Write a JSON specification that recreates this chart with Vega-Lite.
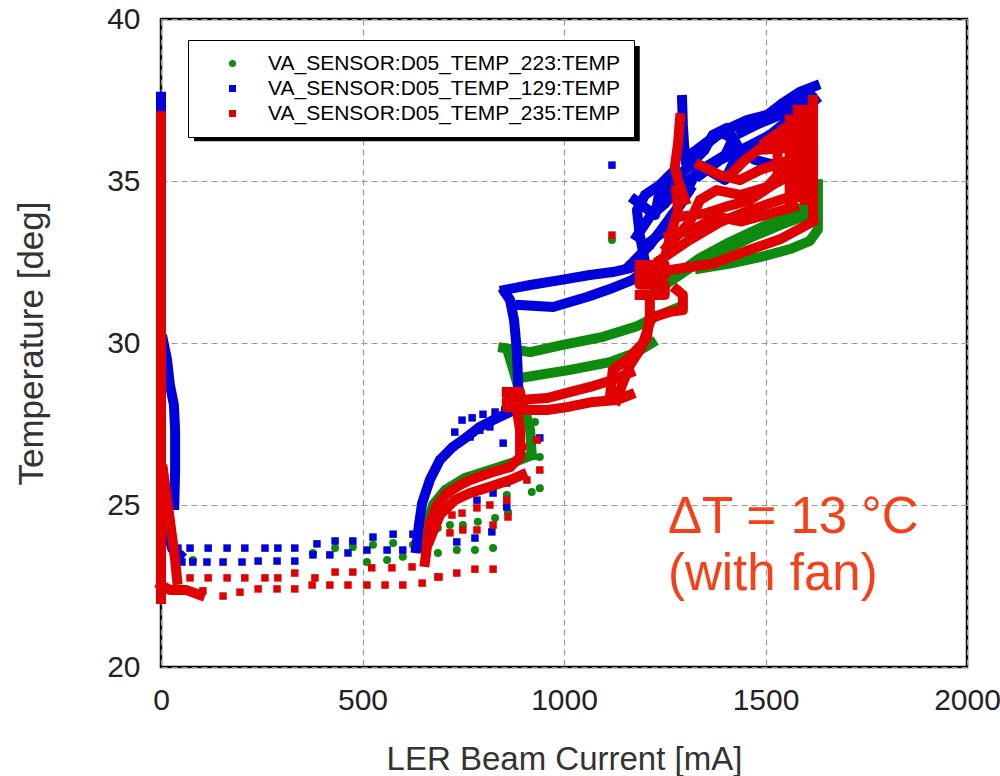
{
  "$schema": "https://vega.github.io/schema/vega-lite/v6.json",
  "width": 806,
  "height": 648,
  "autosize": {"type": "none"},
  "padding": {"left": 161, "top": 19, "right": 33, "bottom": 109},
  "background": "white",
  "config": {
    "font": "Liberation Sans",
    "view": {"stroke": "#000", "strokeWidth": 2.5},
    "axis": {"grid": true, "gridColor": "#999", "gridDash": [6, 4], "gridWidth": 1.2, "domain": false, "ticks": false, "labelFlush": false,
      "labelFont": "Liberation Sans", "labelFontSize": 30, "labelColor": "#222",
      "titleFont": "Liberation Sans", "titleFontWeight": "normal", "titleColor": "#333"}
  },
  "datasets": {
    "pts": [
      {"s":"223","x":79,"y":23.3},{"s":"223","x":377,"y":23.52},{"s":"223","x":432,"y":23.67},{"s":"223","x":476,"y":23.7},{"s":"223","x":526,"y":23.77},{"s":"223","x":576,"y":23.83},{"s":"223","x":625,"y":23.77},{"s":"223","x":672,"y":24.07},{"s":"223","x":511,"y":23.24},{"s":"223","x":561,"y":23.3},{"s":"223","x":600,"y":23.4},{"s":"223","x":734,"y":23.61},{"s":"223","x":779,"y":23.61},{"s":"223","x":824,"y":23.67},{"s":"223","x":717,"y":24.38},{"s":"223","x":786,"y":24.48},{"s":"223","x":829,"y":24.6},{"s":"223","x":861,"y":24.78},{"s":"223","x":687,"y":24.29},{"s":"223","x":749,"y":24.38},{"s":"223","x":687,"y":23.52},{"s":"223","x":920,"y":25.4},{"s":"223","x":940,"y":25.52},{"s":"223","x":940,"y":26.48},{"s":"223","x":858,"y":25.31},{"s":"223","x":928,"y":27.56},{"s":"223","x":1119,"y":33.18},
      {"s":"223","g":"G0","x":650,"y":23.67},{"s":"223","g":"G0","x":660,"y":24.38},{"s":"223","g":"G0","x":675,"y":25.0},{"s":"223","g":"G0","x":705,"y":25.46},{"s":"223","g":"G0","x":754,"y":25.83},{"s":"223","g":"G0","x":816,"y":26.08},{"s":"223","g":"G0","x":878,"y":26.33},{"s":"223","g":"G0","x":920,"y":26.54},
      {"s":"223","g":"G1","x":920,"y":26.54},{"s":"223","g":"G1","x":916,"y":27.31},{"s":"223","g":"G1","x":896,"y":28.24},{"s":"223","g":"G1","x":878,"y":29.01},{"s":"223","g":"G1","x":861,"y":29.72},
      {"s":"223","g":"G2","x":849,"y":29.85},{"s":"223","g":"G2","x":916,"y":29.72},{"s":"223","g":"G2","x":997,"y":29.94},{"s":"223","g":"G2","x":1097,"y":30.19},{"s":"223","g":"G2","x":1181,"y":30.52},{"s":"223","g":"G2","x":1231,"y":30.83},{"s":"223","g":"G2","x":1280,"y":31.08},
      {"s":"223","g":"G3","x":891,"y":28.92},{"s":"223","g":"G3","x":1015,"y":29.17},{"s":"223","g":"G3","x":1114,"y":29.41},{"s":"223","g":"G3","x":1181,"y":29.72},{"s":"223","g":"G3","x":1218,"y":30.0},
      {"s":"223","g":"G4","x":1226,"y":31.57},{"s":"223","g":"G4","x":1288,"y":32.19},{"s":"223","g":"G4","x":1337,"y":32.62},{"s":"223","g":"G4","x":1412,"y":33.12},{"s":"223","g":"G4","x":1486,"y":33.55},{"s":"223","g":"G4","x":1561,"y":33.98},{"s":"223","g":"G4","x":1623,"y":34.41},{"s":"223","g":"G4","x":1625,"y":34.9},
      {"s":"223","g":"G5","x":1250,"y":31.79},{"s":"223","g":"G5","x":1312,"y":32.31},{"s":"223","g":"G5","x":1387,"y":32.81},{"s":"223","g":"G5","x":1461,"y":33.24},{"s":"223","g":"G5","x":1536,"y":33.64},{"s":"223","g":"G5","x":1623,"y":34.04},
      {"s":"223","g":"G6","x":1337,"y":32.3},{"s":"223","g":"G6","x":1412,"y":32.45},{"s":"223","g":"G6","x":1486,"y":32.65},{"s":"223","g":"G6","x":1561,"y":32.9},{"s":"223","g":"G6","x":1610,"y":33.15},{"s":"223","g":"G6","x":1630,"y":33.5},{"s":"223","g":"G6","x":1630,"y":34.9},

      {"s":"129","x":42,"y":23.67},{"s":"129","x":72,"y":23.67},{"s":"129","x":117,"y":23.67},{"s":"129","x":164,"y":23.67},{"s":"129","x":208,"y":23.67},{"s":"129","x":258,"y":23.67},{"s":"129","x":290,"y":23.67},{"s":"129","x":332,"y":23.67},{"s":"129","x":387,"y":23.8},{"s":"129","x":432,"y":23.89},{"s":"129","x":476,"y":23.89},{"s":"129","x":526,"y":24.01},{"s":"129","x":576,"y":24.1},{"s":"129","x":625,"y":24.1},
      {"s":"129","x":52,"y":23.24},{"s":"129","x":79,"y":23.24},{"s":"129","x":114,"y":23.24},{"s":"129","x":154,"y":23.24},{"s":"129","x":201,"y":23.24},{"s":"129","x":241,"y":23.27},{"s":"129","x":288,"y":23.27},{"s":"129","x":332,"y":23.27},{"s":"129","x":377,"y":23.46},{"s":"129","x":419,"y":23.46},{"s":"129","x":464,"y":23.52},{"s":"129","x":511,"y":23.61},{"s":"129","x":561,"y":23.61},{"s":"129","x":600,"y":23.61},{"s":"129","x":643,"y":23.67},
      {"s":"129","x":734,"y":23.86},{"s":"129","x":779,"y":23.98},{"s":"129","x":821,"y":24.17},{"s":"129","x":858,"y":24.94},{"s":"129","x":940,"y":27.07},{"s":"129","x":747,"y":27.62},{"s":"129","x":772,"y":27.69},{"s":"129","x":799,"y":27.8},{"s":"129","x":829,"y":27.87},{"s":"129","x":853,"y":27.93},{"s":"129","x":791,"y":27.31},{"s":"129","x":816,"y":27.41},{"s":"129","x":729,"y":27.25},{"s":"129","x":767,"y":27.1},{"s":"129","x":849,"y":26.91},{"s":"129","x":933,"y":27.01},{"s":"129","x":858,"y":25.68},{"s":"129","x":824,"y":25.37},{"s":"129","x":784,"y":25.15},{"s":"129","x":1119,"y":35.49},
      {"s":"129","g":"B0","x":0,"y":37.6},{"s":"129","g":"B0","x":0,"y":31.3},{"s":"129","g":"B0","x":0,"y":25.8},
      {"s":"129","g":"B1","x":5,"y":30.09},{"s":"129","g":"B1","x":15,"y":29.48},{"s":"129","g":"B1","x":22,"y":28.71},{"s":"129","g":"B1","x":32,"y":28.09},{"s":"129","g":"B1","x":35,"y":27.31},{"s":"129","g":"B1","x":35,"y":26.08},{"s":"129","g":"B1","x":33,"y":25.0},
      {"s":"129","g":"B1b","x":12,"y":25.0},{"s":"129","g":"B1b","x":17,"y":24.23},{"s":"129","g":"B1b","x":27,"y":23.67},{"s":"129","g":"B1b","x":47,"y":23.46},
      {"s":"129","g":"B2","x":633,"y":23.67},{"s":"129","g":"B2","x":640,"y":24.38},{"s":"129","g":"B2","x":648,"y":25.06},{"s":"129","g":"B2","x":667,"y":25.77},{"s":"129","g":"B2","x":692,"y":26.39},{"s":"129","g":"B2","x":724,"y":26.79},{"s":"129","g":"B2","x":759,"y":27.1},{"s":"129","g":"B2","x":791,"y":27.41},{"s":"129","g":"B2","x":824,"y":27.62},{"s":"129","g":"B2","x":866,"y":27.87},{"s":"129","g":"B2","x":886,"y":28.09},
      {"s":"129","g":"B3","x":886,"y":28.09},{"s":"129","g":"B3","x":886,"y":28.86},{"s":"129","g":"B3","x":883,"y":29.78},{"s":"129","g":"B3","x":876,"y":30.71},{"s":"129","g":"B3","x":866,"y":31.33},{"s":"129","g":"B3","x":853,"y":31.57},
      {"s":"129","g":"B4","x":853,"y":31.64},{"s":"129","g":"B4","x":916,"y":31.79},{"s":"129","g":"B4","x":990,"y":31.94},{"s":"129","g":"B4","x":1064,"y":32.1},{"s":"129","g":"B4","x":1121,"y":32.19},{"s":"129","g":"B4","x":1164,"y":32.31},{"s":"129","g":"B4","x":1201,"y":32.5},
      {"s":"129","g":"B5","x":891,"y":31.17},{"s":"129","g":"B5","x":973,"y":31.11},{"s":"129","g":"B5","x":1057,"y":31.42},{"s":"129","g":"B5","x":1121,"y":31.7},{"s":"129","g":"B5","x":1169,"y":31.94},{"s":"129","g":"B5","x":1206,"y":32.31},
      {"s":"129","g":"B6","x":1201,"y":32.5},{"s":"129","g":"B6","x":1188,"y":33.33},{"s":"129","g":"B6","x":1181,"y":34.1},{"s":"129","g":"B6","x":1201,"y":34.57},{"s":"129","g":"B6","x":1238,"y":34.88},{"s":"129","g":"B6","x":1275,"y":35.34},
      {"s":"129","g":"B7","x":1164,"y":32.41},{"s":"129","g":"B7","x":1213,"y":33.02},{"s":"129","g":"B7","x":1250,"y":33.64},{"s":"129","g":"B7","x":1288,"y":34.26},{"s":"129","g":"B7","x":1312,"y":34.72},
      {"s":"129","g":"B8","x":1238,"y":34.41},{"s":"129","g":"B8","x":1275,"y":35.03},{"s":"129","g":"B8","x":1312,"y":35.49},{"s":"129","g":"B8","x":1349,"y":35.96},{"s":"129","g":"B8","x":1369,"y":36.42},{"s":"129","g":"B8","x":1404,"y":36.64},{"s":"129","g":"B8","x":1437,"y":35.96},{"s":"129","g":"B8","x":1474,"y":35.65},{"s":"129","g":"B8","x":1524,"y":35.49},{"s":"129","g":"B8","x":1585,"y":35.49},{"s":"129","g":"B8","x":1618,"y":35.49},
      {"s":"129","g":"B9","x":1312,"y":35.8},{"s":"129","g":"B9","x":1362,"y":36.27},{"s":"129","g":"B9","x":1412,"y":36.64},{"s":"129","g":"B9","x":1454,"y":36.88},{"s":"129","g":"B9","x":1504,"y":37.04},{"s":"129","g":"B9","x":1543,"y":37.41},{"s":"129","g":"B9","x":1585,"y":37.75},{"s":"129","g":"B9","x":1623,"y":37.93},
      {"s":"129","g":"B10","x":1337,"y":35.18},{"s":"129","g":"B10","x":1387,"y":35.65},{"s":"129","g":"B10","x":1449,"y":36.02},{"s":"129","g":"B10","x":1511,"y":36.42},{"s":"129","g":"B10","x":1573,"y":37.04},{"s":"129","g":"B10","x":1623,"y":37.5},
      {"s":"129","g":"B11","x":1176,"y":34.41},{"s":"129","g":"B11","x":1226,"y":33.95},{"s":"129","g":"B11","x":1238,"y":34.72},{"s":"129","g":"B11","x":1312,"y":34.88},{"s":"129","g":"B11","x":1337,"y":35.49},{"s":"129","g":"B11","x":1399,"y":35.03},{"s":"129","g":"B11","x":1424,"y":35.65},{"s":"129","g":"B11","x":1486,"y":36.11},
      {"s":"129","g":"B12","x":1293,"y":37.5},{"s":"129","g":"B12","x":1295,"y":36.73},{"s":"129","g":"B12","x":1298,"y":36.11},{"s":"129","g":"B12","x":1302,"y":35.65},
      {"s":"129","g":"B13","x":1181,"y":33.3},{"s":"129","g":"B13","x":1213,"y":33.9},{"s":"129","g":"B13","x":1250,"y":34.3},{"s":"129","g":"B13","x":1288,"y":34.8},{"s":"129","g":"B13","x":1325,"y":35.2},
      {"s":"129","g":"B14","x":1200,"y":33.0},{"s":"129","g":"B14","x":1238,"y":33.35},{"s":"129","g":"B14","x":1265,"y":33.9},{"s":"129","g":"B14","x":1290,"y":34.3},
      {"s":"129","g":"B15","x":1330,"y":35.9},{"s":"129","g":"B15","x":1360,"y":36.2},{"s":"129","g":"B15","x":1390,"y":36.5},{"s":"129","g":"B15","x":1419,"y":36.3},{"s":"129","g":"B15","x":1400,"y":35.8},{"s":"129","g":"B15","x":1360,"y":35.5},
      {"s":"129","g":"B16","x":1440,"y":36.5},{"s":"129","g":"B16","x":1480,"y":36.75},{"s":"129","g":"B16","x":1530,"y":37.0},{"s":"129","g":"B16","x":1570,"y":37.3},{"s":"129","g":"B16","x":1610,"y":37.7},

      {"s":"235","x":72,"y":22.75},{"s":"235","x":117,"y":22.75},{"s":"235","x":164,"y":22.75},{"s":"235","x":208,"y":22.75},{"s":"235","x":258,"y":22.75},{"s":"235","x":290,"y":22.75},{"s":"235","x":332,"y":22.9},{"s":"235","x":382,"y":22.75},{"s":"235","x":432,"y":22.93},{"s":"235","x":476,"y":22.93},{"s":"235","x":523,"y":23.06},{"s":"235","x":573,"y":23.06},{"s":"235","x":623,"y":23.09},{"s":"235","x":687,"y":22.78},
      {"s":"235","x":104,"y":22.35},{"s":"235","x":154,"y":22.19},{"s":"235","x":196,"y":22.31},{"s":"235","x":241,"y":22.41},{"s":"235","x":288,"y":22.41},{"s":"235","x":332,"y":22.41},{"s":"235","x":375,"y":22.53},{"s":"235","x":419,"y":22.53},{"s":"235","x":464,"y":22.53},{"s":"235","x":511,"y":22.53},{"s":"235","x":556,"y":22.53},{"s":"235","x":600,"y":22.53},{"s":"235","x":648,"y":22.59},{"s":"235","x":690,"y":22.78},{"s":"235","x":734,"y":22.9},{"s":"235","x":779,"y":23.02},{"s":"235","x":824,"y":23.02},
      {"s":"235","x":717,"y":24.14},{"s":"235","x":749,"y":24.23},{"s":"235","x":784,"y":24.23},{"s":"235","x":824,"y":24.38},{"s":"235","x":722,"y":24.69},{"s":"235","x":747,"y":24.75},{"s":"235","x":784,"y":24.91},{"s":"235","x":816,"y":25.0},{"s":"235","x":861,"y":24.63},{"s":"235","x":858,"y":25.15},{"s":"235","x":908,"y":25.77},{"s":"235","x":940,"y":26.08},{"s":"235","x":898,"y":26.79},{"s":"235","x":933,"y":27.01},{"s":"235","x":1119,"y":33.33},
      {"s":"235","g":"R0","x":0,"y":37.0},{"s":"235","g":"R0","x":0,"y":22.1},
      {"s":"235","g":"R0b","x":0,"y":22.53},{"s":"235","g":"R0b","x":22,"y":22.38},{"s":"235","g":"R0b","x":62,"y":22.38},{"s":"235","g":"R0b","x":97,"y":22.22},
      {"s":"235","g":"R0c","x":5,"y":26.08},{"s":"235","g":"R0c","x":22,"y":24.54},{"s":"235","g":"R0c","x":35,"y":23.3},{"s":"235","g":"R0c","x":40,"y":22.69},
      {"s":"235","g":"R1","x":655,"y":23.24},{"s":"235","g":"R1","x":662,"y":23.92},{"s":"235","g":"R1","x":667,"y":24.44},{"s":"235","g":"R1","x":685,"y":25.0},{"s":"235","g":"R1","x":710,"y":25.37},{"s":"235","g":"R1","x":742,"y":25.62},{"s":"235","g":"R1","x":767,"y":25.77},{"s":"235","g":"R1","x":816,"y":25.99},{"s":"235","g":"R1","x":866,"y":26.17},{"s":"235","g":"R1","x":891,"y":26.48},{"s":"235","g":"R1","x":891,"y":27.31},{"s":"235","g":"R1","x":883,"y":27.93},{"s":"235","g":"R1","x":878,"y":28.3},
      {"s":"235","g":"R1b","x":667,"y":23.92},{"s":"235","g":"R1b","x":692,"y":24.69},{"s":"235","g":"R1b","x":729,"y":25.15},{"s":"235","g":"R1b","x":767,"y":25.37},{"s":"235","g":"R1b","x":816,"y":25.56},{"s":"235","g":"R1b","x":866,"y":25.77},{"s":"235","g":"R1b","x":896,"y":25.93},
      {"s":"235","g":"R2","x":858,"y":28.49},{"s":"235","g":"R2","x":891,"y":28.49},{"s":"235","g":"R2","x":891,"y":28.24},{"s":"235","g":"R2","x":858,"y":28.24},{"s":"235","g":"R2","x":858,"y":28.02},{"s":"235","g":"R2","x":891,"y":28.02},
      {"s":"235","g":"R3","x":891,"y":28.24},{"s":"235","g":"R3","x":958,"y":28.3},{"s":"235","g":"R3","x":1007,"y":28.46},{"s":"235","g":"R3","x":1072,"y":28.67},{"s":"235","g":"R3","x":1121,"y":28.86},{"s":"235","g":"R3","x":1164,"y":29.08},
      {"s":"235","g":"R4","x":896,"y":27.93},{"s":"235","g":"R4","x":958,"y":27.93},{"s":"235","g":"R4","x":1007,"y":28.02},{"s":"235","g":"R4","x":1072,"y":28.18},{"s":"235","g":"R4","x":1131,"y":28.24},{"s":"235","g":"R4","x":1164,"y":28.4},
      {"s":"235","g":"R5","x":1131,"y":28.24},{"s":"235","g":"R5","x":1144,"y":28.7},{"s":"235","g":"R5","x":1164,"y":29.32},{"s":"235","g":"R5","x":1188,"y":29.78},{"s":"235","g":"R5","x":1206,"y":30.19},{"s":"235","g":"R5","x":1213,"y":30.86},{"s":"235","g":"R5","x":1213,"y":31.42},
      {"s":"235","g":"R6","x":1114,"y":28.33},{"s":"235","g":"R6","x":1121,"y":29.17},{"s":"235","g":"R6","x":1156,"y":29.48},{"s":"235","g":"R6","x":1196,"y":30.0},{"s":"235","g":"R6","x":1213,"y":30.62},
      {"s":"235","g":"R7","x":1188,"y":32.41},{"s":"235","g":"R7","x":1250,"y":32.41},{"s":"235","g":"R7","x":1250,"y":32.1},{"s":"235","g":"R7","x":1188,"y":32.1},{"s":"235","g":"R7","x":1188,"y":31.8},{"s":"235","g":"R7","x":1250,"y":31.8},{"s":"235","g":"R7","x":1250,"y":31.48},{"s":"235","g":"R7","x":1188,"y":31.48},
      {"s":"235","g":"R8","x":1221,"y":30.8},{"s":"235","g":"R8","x":1263,"y":30.96},{"s":"235","g":"R8","x":1295,"y":31.02},{"s":"235","g":"R8","x":1295,"y":31.48},{"s":"235","g":"R8","x":1280,"y":31.64},
      {"s":"235","g":"R9","x":1288,"y":36.94},{"s":"235","g":"R9","x":1283,"y":36.17},{"s":"235","g":"R9","x":1275,"y":35.43},{"s":"235","g":"R9","x":1283,"y":35.03},{"s":"235","g":"R9","x":1300,"y":34.41},
      {"s":"235","g":"R10","x":1255,"y":32.96},{"s":"235","g":"R10","x":1312,"y":33.73},{"s":"235","g":"R10","x":1337,"y":34.41},{"s":"235","g":"R10","x":1379,"y":34.72},{"s":"235","g":"R10","x":1437,"y":34.57},{"s":"235","g":"R10","x":1504,"y":34.81},{"s":"235","g":"R10","x":1553,"y":35.49},{"s":"235","g":"R10","x":1603,"y":36.57},{"s":"235","g":"R10","x":1618,"y":37.41},
      {"s":"235","g":"R11","x":1238,"y":32.56},{"s":"235","g":"R11","x":1312,"y":33.18},{"s":"235","g":"R11","x":1387,"y":33.73},{"s":"235","g":"R11","x":1461,"y":34.1},{"s":"235","g":"R11","x":1536,"y":34.41},{"s":"235","g":"R11","x":1610,"y":34.72},
      {"s":"235","g":"R12","x":1188,"y":32.1},{"s":"235","g":"R12","x":1288,"y":32.3},{"s":"235","g":"R12","x":1370,"y":32.45},{"s":"235","g":"R12","x":1454,"y":32.85},{"s":"235","g":"R12","x":1536,"y":33.2},{"s":"235","g":"R12","x":1618,"y":33.75},
      {"s":"235","g":"R13","x":1618,"y":37.5},{"s":"235","g":"R13","x":1618,"y":33.95},
      {"s":"235","g":"R13b","x":1598,"y":37.19},{"s":"235","g":"R13b","x":1598,"y":34.41},
      {"s":"235","g":"R14","x":1486,"y":35.96},{"s":"235","g":"R14","x":1548,"y":36.02},{"s":"235","g":"R14","x":1618,"y":36.17},{"s":"235","g":"R14","x":1561,"y":36.42},{"s":"235","g":"R14","x":1499,"y":36.11},{"s":"235","g":"R14","x":1449,"y":35.65},{"s":"235","g":"R14","x":1412,"y":35.18},
      {"s":"235","g":"R15","x":1337,"y":35.49},{"s":"235","g":"R15","x":1387,"y":35.18},{"s":"235","g":"R15","x":1437,"y":35.03},{"s":"235","g":"R15","x":1486,"y":35.34},{"s":"235","g":"R15","x":1561,"y":35.65},{"s":"235","g":"R15","x":1615,"y":35.96},
      {"s":"235","g":"R17","x":1255,"y":32.87},{"s":"235","g":"R17","x":1268,"y":33.49},{"s":"235","g":"R17","x":1283,"y":34.1},{"s":"235","g":"R17","x":1278,"y":34.72},
      {"s":"235","g":"R18","x":1290,"y":33.9},{"s":"235","g":"R18","x":1350,"y":34.0},{"s":"235","g":"R18","x":1400,"y":34.2},{"s":"235","g":"R18","x":1460,"y":34.4},{"s":"235","g":"R18","x":1520,"y":34.9},{"s":"235","g":"R18","x":1580,"y":35.3},{"s":"235","g":"R18","x":1610,"y":35.6},
      {"s":"235","g":"R19","x":1260,"y":33.3},{"s":"235","g":"R19","x":1320,"y":33.5},{"s":"235","g":"R19","x":1380,"y":33.9},{"s":"235","g":"R19","x":1440,"y":33.75},{"s":"235","g":"R19","x":1500,"y":33.95},{"s":"235","g":"R19","x":1570,"y":34.2},
      {"s":"235","g":"R20","x":1560,"y":36.9},{"s":"235","g":"R20","x":1560,"y":34.3},
      {"s":"235","g":"R21","x":1580,"y":37.2},{"s":"235","g":"R21","x":1580,"y":34.5},
      {"s":"235","g":"R22","x":1530,"y":36.4},{"s":"235","g":"R22","x":1530,"y":35.1},
      {"s":"235","g":"R23","x":1500,"y":36.2},{"s":"235","g":"R23","x":1545,"y":36.6},{"s":"235","g":"R23","x":1590,"y":37.0}
    ]
  },
  "encoding": {
    "x": {"field": "x", "type": "quantitative", "scale": {"domain": [0, 2000], "nice": false},
      "axis": {"values": [0, 500, 1000, 1500, 2000], "format": "d", "title": "LER Beam Current [mA]", "labelPadding": 18, "titleFontSize": 33, "titlePadding": 28,
        "encode": {"labels": {"update": {"dx": {"signal": "datum.value == 2000 ? -3 : 0"}}}}}},
    "y": {"field": "y", "type": "quantitative", "scale": {"domain": [20, 40], "nice": false, "zero": false},
      "axis": {"values": [20, 25, 30, 35, 40], "format": "d", "title": "Temperature [deg]", "labelPadding": 21, "titleFontSize": 35, "titlePadding": 57}}
  },
  "layer": [
    {
      "data": {"values": [{"x": 82, "x2": 1188, "y": 36.23, "y2": 39.17}]},
      "mark": {"type": "rect", "color": "#000"},
      "encoding": {"x2": {"field": "x2"}, "y2": {"field": "y2"}}
    },
    {
      "data": {"name": "pts"},
      "transform": [{"filter": "datum.s == '223' && isValid(datum.g)"}],
      "mark": {"type": "line", "strokeWidth": 10, "strokeJoin": "round", "strokeCap": "square", "clip": false, "color": "#0e8a0e"},
      "encoding": {"detail": {"field": "g"}, "order": {"value": null}}
    },
    {
      "data": {"name": "pts"},
      "transform": [{"filter": "datum.s == '223'"}],
      "mark": {"type": "point", "filled": true, "opacity": 1, "size": 64, "clip": false},
      "encoding": {
        "color": {"field": "s", "type": "nominal", "scale": {"domain": ["223", "129", "235"], "range": ["#0e8a0e", "#0000dd", "#e00000"]},
          "legend": {"title": null, "orient": "none", "legendX": 27, "legendY": 21, "direction": "vertical", "padding": 13,
            "strokeColor": "#000", "fillColor": "#fff", "labelFont": "Liberation Sans", "labelFontSize": 21, "labelLimit": 600,
            "symbolSize": 49, "symbolOffset": 21, "labelOffset": 25, "rowPadding": 3, "symbolStrokeWidth": 0,
            "labelExpr": "'VA_SENSOR:D05_TEMP_' + datum.label + ':TEMP'",
            "encode": {"legend": {"update": {"strokeWidth": {"value": 2}}},
              "labels": {"update": {"fill": {"signal": "datum.value == '223' ? '#2f9e2f' : datum.value == '129' ? '#4444ee' : '#ee4040'"}}}}}},
        "shape": {"field": "s", "type": "nominal", "scale": {"domain": ["223", "129", "235"], "range": ["circle", "square", "square"]}}
      }
    },
    {
      "data": {"name": "pts"},
      "transform": [{"filter": "datum.s == '129' && isValid(datum.g)"}],
      "mark": {"type": "line", "strokeWidth": 10, "strokeJoin": "round", "strokeCap": "square", "clip": false, "color": "#0000dd"},
      "encoding": {"detail": {"field": "g"}, "order": {"value": null}}
    },
    {
      "data": {"name": "pts"},
      "transform": [{"filter": "datum.s == '129'"}],
      "mark": {"type": "point", "filled": true, "opacity": 1, "size": 56, "clip": false},
      "encoding": {"color": {"field": "s", "type": "nominal"}, "shape": {"field": "s", "type": "nominal"}}
    },
    {
      "data": {"name": "pts"},
      "transform": [{"filter": "datum.s == '235' && isValid(datum.g)"}],
      "mark": {"type": "line", "strokeWidth": 10, "strokeJoin": "round", "strokeCap": "square", "clip": false, "color": "#e00000"},
      "encoding": {"detail": {"field": "g"}, "order": {"value": null}}
    },
    {
      "data": {"name": "pts"},
      "transform": [{"filter": "datum.s == '235'"}],
      "mark": {"type": "point", "filled": true, "opacity": 1, "size": 56, "clip": false},
      "encoding": {"color": {"field": "s", "type": "nominal"}, "shape": {"field": "s", "type": "nominal"}}
    },
    {
      "data": {"values": [{"x": 1258, "y": 24.14, "t": "ΔT = 13 °C"}, {"x": 1258, "y": 22.38, "t": "(with fan)"}]},
      "mark": {"type": "text", "align": "left", "baseline": "alphabetic", "font": "Liberation Sans", "fontSize": 51, "color": "#f5401a"},
      "encoding": {"text": {"field": "t"}}
    }
  ]
}
